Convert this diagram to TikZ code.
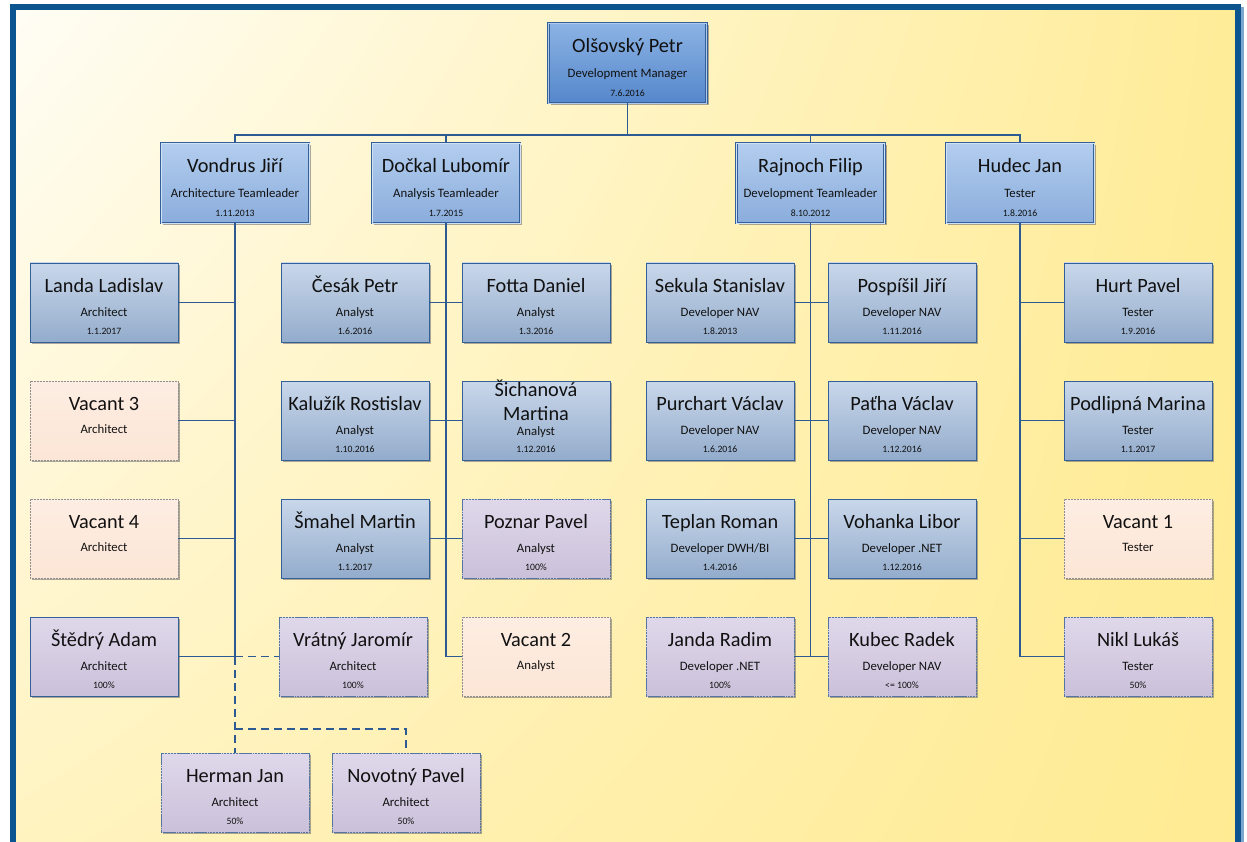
\documentclass[tikz,border=0pt]{standalone}
\usepackage{fontspec}
\setmainfont{Carlito}
\usetikzlibrary{calc,shadows,shadings}

\definecolor{framec}{HTML}{0B548F}
\definecolor{frameshade}{HTML}{7FA8CF}
\definecolor{bgA}{HTML}{FFFDF5}
\definecolor{bgB}{HTML}{FFEC98}
\definecolor{bgC}{HTML}{FFF3C0}
\definecolor{bgD}{HTML}{FFEB92}
\definecolor{linkc}{HTML}{2D5A93}
\definecolor{edgec}{HTML}{34609A}
\definecolor{mgrtop}{HTML}{8CB3E4}
\definecolor{mgrbot}{HTML}{5587CB}
\definecolor{ldrtop}{HTML}{B3CDEE}
\definecolor{ldrbot}{HTML}{8BADDC}
\definecolor{emptop}{HTML}{C9D7EA}
\definecolor{empbot}{HTML}{93ACCC}
\definecolor{vactop}{HTML}{FDEDE2}
\definecolor{vacbot}{HTML}{FCE6D6}
\definecolor{vacedge}{HTML}{8E8E8E}
\definecolor{purtop}{HTML}{DFD8EA}
\definecolor{purbot}{HTML}{CBC0DA}
\definecolor{puredge}{HTML}{5573A3}
\definecolor{textc}{HTML}{111111}

\tikzset{
  boxbase/.style={rectangle, inner sep=0pt, minimum width=148pt, minimum height=79pt,
    drop shadow={shadow xshift=2.2pt, shadow yshift=-2.2pt, fill=black!60, opacity=0.55}},
  mgrbox/.style={boxbase, minimum width=158pt, minimum height=80pt,
    top color=mgrtop, bottom color=mgrbot, draw=edgec, line width=0.6pt,
    double=mgrtop!70!white, double distance=0.9pt},
  ldrbox/.style={boxbase, minimum height=80pt, top color=ldrtop, bottom color=ldrbot,
    draw=edgec, line width=0.6pt, double=ldrtop!60!white, double distance=0.9pt},
  empbox/.style={boxbase, top color=emptop, bottom color=empbot, draw=edgec, line width=0.9pt},
  vacbox/.style={boxbase, top color=vactop, bottom color=vacbot, draw=vacedge,
    line width=0.9pt, dash pattern=on 0.9pt off 0.6pt},
  purbox/.style={boxbase, top color=purtop, bottom color=purbot, draw=puredge,
    line width=0.9pt, dash pattern=on 1.4pt off 0.6pt on 0.5pt off 0.6pt},
  pursolid/.style={boxbase, top color=purtop, bottom color=purbot, draw=edgec, line width=0.9pt},
  nm/.style={anchor=base, inner sep=0pt, text=textc, font=\fontsize{20.3}{22}\selectfont},
  rl/.style={anchor=base, inner sep=0pt, text=textc, font=\fontsize{12.8}{14}\selectfont},
  dt/.style={anchor=base, inner sep=0pt, text=textc, font=\fontsize{9.7}{11}\selectfont},
  link/.style={draw=linkc, line width=1.3pt},
  dlink/.style={draw=linkc, line width=1.3pt, dash pattern=on 8pt off 5pt},
}

% leader box: id, style, centre x, top y, name, role, date
\newcommand\leadbox[7]{%
  \node[#2] (#1) at (#3,#4+40) {};
  \node[nm] (#1-n) at ($(#1.north)+(0,30)$) {#5};
  \node[rl] (#1-r) at ($(#1.north)+(0,55)$) {#6};
  \node[dt] (#1-d) at ($(#1.north)+(0,74)$) {#7};
}
% staff box: id, style, centre x, top y, name, role, date
\newcommand\staffbox[7]{%
  \node[#2] (#1) at (#3,#4+39.5) {};
  \node[nm] (#1-n) at ($(#1.north)+(0,30)$) {#5};
  \node[rl] (#1-r) at ($(#1.north)+(0,54)$) {#6};
  \node[dt] (#1-d) at ($(#1.north)+(0,72)$) {#7};
}
% vacant position: id, centre x, top y, name, role
\newcommand\vacantbox[5]{%
  \node[vacbox] (#1) at (#2,#3+39.5) {};
  \node[nm] (#1-n) at ($(#1.north)+(0,30)$) {#4};
  \node[rl] (#1-r) at ($(#1.north)+(0,53)$) {#5};
}

\begin{document}
\begin{tikzpicture}[x=1pt,y=-1pt]
  \useasboundingbox (0,0) rectangle (1247,842);
  \fill[white] (0,0) rectangle (1247,842);

  % background and frame
  \shade[upper left=bgA, upper right=bgB, lower left=bgC, lower right=bgD]
    (16,10) rectangle (1235,842);
  \fill[frameshade] (1241,7) rectangle (1244,842);
  \fill[framec] (10,4) rectangle (16,842);
  \fill[framec] (10,4) rectangle (1241,10);
  \fill[framec] (1235,4) rectangle (1241,842);

  % management
  \leadbox{top}{mgrbox}{627.5}{23}{Olšovský Petr}{Development Manager}{7.6.2016}
  \leadbox{vondrus}{ldrbox}{235}{143}{Vondrus Jiří}{Architecture Teamleader}{1.11.2013}
  \leadbox{dockal}{ldrbox}{446}{143}{Dočkal Lubomír}{Analysis Teamleader}{1.7.2015}
  \leadbox{rajnoch}{ldrbox}{810.5}{143}{Rajnoch Filip}{Development Teamleader}{8.10.2012}
  \leadbox{hudec}{ldrbox}{1020}{143}{Hudec Jan}{Tester}{1.8.2016}

  % architecture
  \staffbox{landa}{empbox}{104}{263}{Landa Ladislav}{Architect}{1.1.2017}
  \vacantbox{vac3}{104}{381}{Vacant 3}{Architect}
  \vacantbox{vac4}{104}{499}{Vacant 4}{Architect}
  \staffbox{stedry}{pursolid}{104}{617}{Štědrý Adam}{Architect}{100\%}
  \staffbox{vratny}{purbox}{353}{617}{Vrátný Jaromír}{Architect}{100\%}
  \staffbox{herman}{purbox}{235}{753}{Herman Jan}{Architect}{50\%}
  \staffbox{novotny}{purbox}{406}{753}{Novotný Pavel}{Architect}{50\%}

  % analysis
  \staffbox{cesak}{empbox}{355}{263}{Česák Petr}{Analyst}{1.6.2016}
  \staffbox{kaluzik}{empbox}{355}{381}{Kalužík Rostislav}{Analyst}{1.10.2016}
  \staffbox{smahel}{empbox}{355}{499}{Šmahel Martin}{Analyst}{1.1.2017}
  \staffbox{fotta}{empbox}{536}{263}{Fotta Daniel}{Analyst}{1.3.2016}
  \node[empbox] (sich) at (536,381+39.5) {};
  \node[nm] (sich-n1) at ($(sich.north)+(0,16)$) {Šichanová};
  \node[nm] (sich-n2) at ($(sich.north)+(0,39.5)$) {Martina};
  \node[rl] (sich-r) at ($(sich.north)+(0,54.5)$) {Analyst};
  \node[dt] (sich-d) at ($(sich.north)+(0,72)$) {1.12.2016};
  \staffbox{poznar}{purbox}{536}{499}{Poznar Pavel}{Analyst}{100\%}
  \vacantbox{vac2}{536}{617}{Vacant 2}{Analyst}

  % development
  \staffbox{sekula}{empbox}{720}{263}{Sekula Stanislav}{Developer NAV}{1.8.2013}
  \staffbox{purchart}{empbox}{720}{381}{Purchart Václav}{Developer NAV}{1.6.2016}
  \staffbox{teplan}{empbox}{720}{499}{Teplan Roman}{Developer DWH/BI}{1.4.2016}
  \staffbox{janda}{purbox}{720}{617}{Janda Radim}{Developer .NET}{100\%}
  \staffbox{pospisil}{empbox}{902}{263}{Pospíšil Jiří}{Developer NAV}{1.11.2016}
  \staffbox{patha}{empbox}{902}{381}{Paťha Václav}{Developer NAV}{1.12.2016}
  \staffbox{vohanka}{empbox}{902}{499}{Vohanka Libor}{Developer .NET}{1.12.2016}
  \staffbox{kubec}{purbox}{902}{617}{Kubec Radek}{Developer NAV}{<= 100\%}

  % testing
  \staffbox{hurt}{empbox}{1138}{263}{Hurt Pavel}{Tester}{1.9.2016}
  \staffbox{podlipna}{empbox}{1138}{381}{Podlipná Marina}{Tester}{1.1.2017}
  \vacantbox{vac1}{1138}{499}{Vacant 1}{Tester}
  \staffbox{nikl}{purbox}{1138}{617}{Nikl Lukáš}{Tester}{50\%}

  % top-level bus
  \coordinate (busy) at (627.5,135);
  \draw[link] (top.south) -- (busy);
  \draw[link] (vondrus.north) -- (vondrus.north |- busy) -- (hudec.north |- busy) -- (hudec.north);
  \draw[link] (dockal.north) -- (dockal.north |- busy);
  \draw[link] (rajnoch.north) -- (rajnoch.north |- busy);

  % architecture links
  \draw[link] (vondrus.south) -- (vondrus.south |- stedry.east);
  \foreach \n in {landa,vac3,vac4,stedry}
    \draw[link] (\n.east) -- (\n.east -| vondrus.south);
  \draw[dlink] (vondrus.south |- stedry.east) -- (vratny.west);
  \draw[dlink] (vondrus.south |- stedry.east) -- (herman.north);
  \coordinate (split) at (235,729);
  \draw[dlink] (split) -| (novotny.north);

  % analysis links
  \draw[link] (dockal.south) -- (dockal.south |- vac2.west);
  \draw[link] (cesak.east) -- (fotta.west);
  \draw[link] (kaluzik.east) -- (sich.west);
  \draw[link] (smahel.east) -- (poznar.west);
  \draw[link] (vac2.west) -- (vac2.west -| dockal.south);

  % development links
  \draw[link] (rajnoch.south) -- (rajnoch.south |- janda.east);
  \draw[link] (sekula.east) -- (pospisil.west);
  \draw[link] (purchart.east) -- (patha.west);
  \draw[link] (teplan.east) -- (vohanka.west);
  \draw[link] (janda.east) -- (kubec.west);

  % testing links
  \draw[link] (hudec.south) -- (hudec.south |- nikl.west);
  \foreach \n in {hurt,podlipna,vac1,nikl}
    \draw[link] (\n.west) -- (\n.west -| hudec.south);
\end{tikzpicture}
\end{document}
